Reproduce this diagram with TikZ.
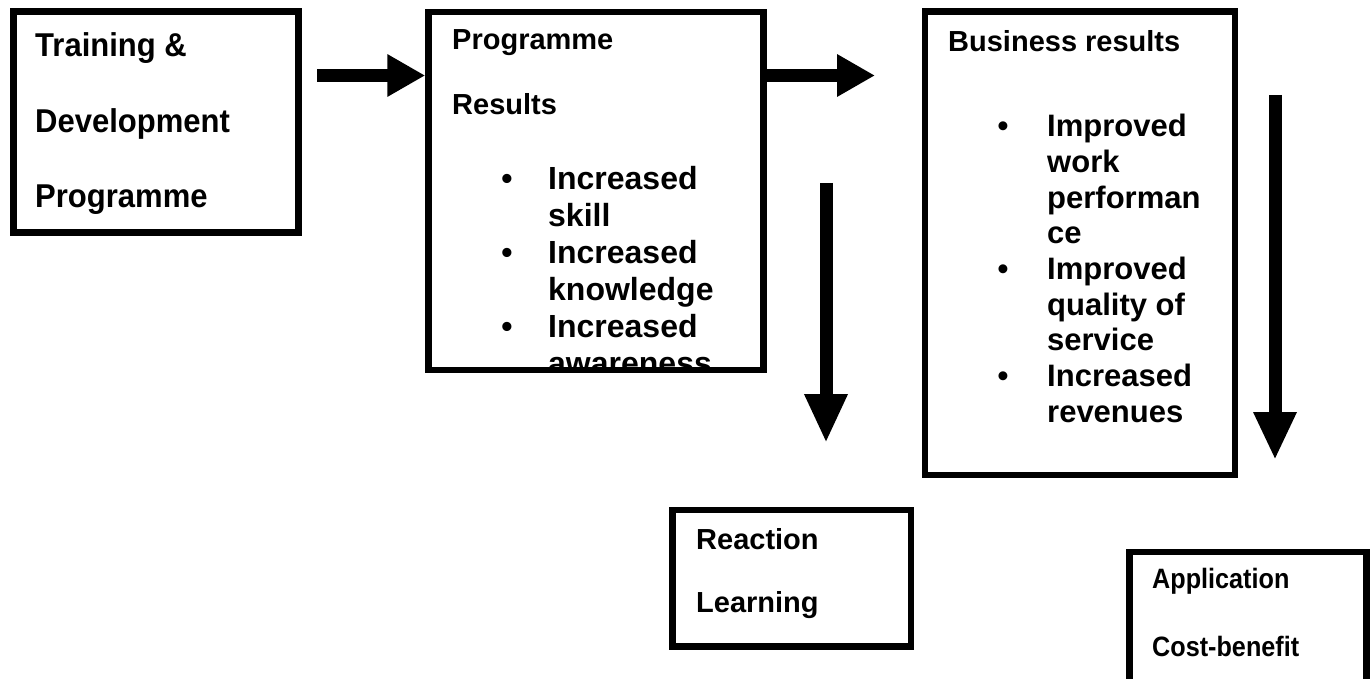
\documentclass[tikz,border=0pt]{standalone}
\usepackage{fontspec}
\setmainfont{Liberation Sans}
\newfontfamily\narrowfont[FakeStretch=0.9]{Liberation Sans}
\newfontfamily\halfnarrowfont[FakeStretch=0.94]{Liberation Sans}
\usetikzlibrary{arrows.meta}

\tikzset{
  box/.style={draw, rectangle, line width=6.5pt, inner sep=0pt},
  head/.style={anchor=base west, inner sep=0pt, font=\fontsize{29}{34}\selectfont\bfseries},
  narrowhead/.style={anchor=base west, inner sep=0pt, font=\fontsize{33}{38}\selectfont\halfnarrowfont\bfseries},
  item/.style={anchor=base west, inner sep=0pt, font=\fontsize{#1}{36}\selectfont\bfseries},
  item/.default=31,
  dot/.style={anchor=base, inner sep=0pt, font=\fontsize{#1}{36}\selectfont\bfseries},
  dot/.default=31,
  blockarrow/.style={line width=13pt, -{Triangle[length=38pt, width=40pt]}}
}

\begin{document}
\begin{tikzpicture}[x=1pt, y=-1pt]
  \useasboundingbox (0,0) rectangle (1371,679);

  % boxes
  \node[box, minimum width=285pt, minimum height=221pt] (train) at (156,122) {};
  \node[box, minimum width=335pt, minimum height=358pt] (prog) at (596,191) {};
  \node[box, minimum width=310pt, minimum height=463.5pt] (biz) at (1080,243.25) {};
  \node[box, minimum width=238.5pt, minimum height=136.5pt] (react) at (791.75,578.25) {};
  \node[box, minimum width=237pt, minimum height=140pt] (appl) at (1248,622) {};

  % training box
  \node[narrowhead] (t1) at (35,57) {Training \&};
  \node[narrowhead] (t2) at (35,133) {Development};
  \node[narrowhead] (t3) at (35,208) {Programme};

  % programme results box, text runs out at the bottom
  \begin{scope}
    \clip ([xshift=6.5pt, yshift=6.5pt]prog.south west) rectangle ([xshift=-6.5pt, yshift=-6.5pt]prog.north east);
    \node[head] (p1) at (452,50) {Programme};
    \node[head] (p2) at (452,115) {Results};
    \node[dot=32] (pd1) at (507,190) {\textbullet};
    \node[item=32] (pi1) at (548,190) {Increased};
    \node[item=32] (pi2) at (548,226.75) {skill};
    \node[dot=32] (pd2) at (507,263.5) {\textbullet};
    \node[item=32] (pi3) at (548,263.5) {Increased};
    \node[item=32] (pi4) at (548,300.25) {knowledge};
    \node[dot=32] (pd3) at (507,337) {\textbullet};
    \node[item=32] (pi5) at (548,337) {Increased};
    \node[item=32] (pi6) at (548,374) {awareness};
  \end{scope}

  % business results box
  \node[head] (b0) at (948,52) {Business results};
  \node[dot] (bd1) at (1003,137) {\textbullet};
  \node[item] (bi1) at (1047,137) {Improved};
  \node[item] (bi2) at (1047,172.6) {work};
  \node[item] (bi3) at (1047,208.3) {performan};
  \node[item] (bi4) at (1047,243.9) {ce};
  \node[dot] (bd2) at (1003,279.5) {\textbullet};
  \node[item] (bi5) at (1047,279.5) {Improved};
  \node[item] (bi6) at (1047,315.1) {quality of};
  \node[item] (bi7) at (1047,350.8) {service};
  \node[dot] (bd3) at (1003,386.4) {\textbullet};
  \node[item] (bi8) at (1047,386.4) {Increased};
  \node[item] (bi9) at (1047,422) {revenues};

  % lower boxes
  \node[head] (r1) at (696,549) {Reaction};
  \node[head] (r2) at (696,612) {Learning};
  \node[narrowhead, font=\fontsize{28}{34}\selectfont\narrowfont\bfseries] (a1) at (1152,588) {Application};
  \node[narrowhead, font=\fontsize{28}{34}\selectfont\narrowfont\bfseries] (a2) at (1152,656) {Cost-benefit};

  % arrows
  \coordinate (s1) at (317,75.5);
  \coordinate (e2) at (875,75.5);
  \coordinate (s3) at (826,183);
  \coordinate (e3) at (826,443);
  \coordinate (s4) at (1275,95);
  \coordinate (e4) at (1275,460);
  \draw[blockarrow] (s1) -- (s1 -| prog.west);
  \draw[blockarrow] (e2 -| prog.east) -- (e2);
  \draw[blockarrow, -{Triangle[length=49pt, width=40pt]}] (s3) -- (e3);
  \draw[blockarrow, -{Triangle[length=48pt, width=40pt]}] (s4) -- (e4);
\end{tikzpicture}
\end{document}
